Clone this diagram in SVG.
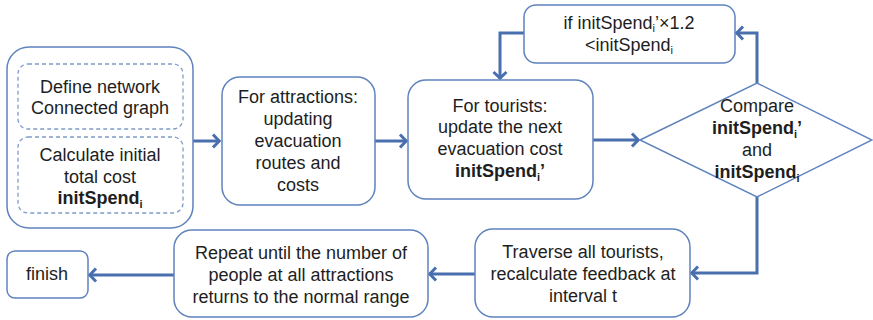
<svg xmlns="http://www.w3.org/2000/svg" width="873" height="320" viewBox="0 0 873 320">
<defs>
<style>
.box{fill:#fff;stroke:#5f83bd;stroke-width:1.5}
.dash{fill:#fff;stroke:#7f9cc8;stroke-width:1.3;stroke-dasharray:4 3}
.conn{fill:none;stroke:#4a6fae;stroke-width:3}
text{font-family:"Liberation Sans",Arial,sans-serif;font-size:18px;fill:#1e1e1e;text-anchor:middle}
.b{font-weight:bold}
.sub{font-size:11px}
</style>
<marker id="arr" markerUnits="userSpaceOnUse" viewBox="-10 -9 12 18" markerWidth="12" markerHeight="18" refX="0" refY="0" orient="auto">
<path d="M-7,-6.5 L-0.8,0 L-7,6.5" fill="none" stroke="#4a6fae" stroke-width="3"/>
</marker>
</defs>
<rect width="873" height="320" fill="#fff"/>
<g id="connectors">
<path class="conn" d="M193,141 L220,141" marker-end="url(#arr)"/>
<path class="conn" d="M375,141 L407,141" marker-end="url(#arr)"/>
<path class="conn" d="M593,140 L639,140" marker-end="url(#arr)"/>
<path class="conn" d="M757,83 L757,33 L736,33" marker-end="url(#arr)"/>
<path class="conn" d="M524,33 L500,33 L500,79" marker-end="url(#arr)"/>
<path class="conn" d="M757,197 L757,273 L691,273" marker-end="url(#arr)"/>
<path class="conn" d="M475,274 L429,274" marker-end="url(#arr)"/>
<path class="conn" d="M174,275 L89,275" marker-end="url(#arr)"/>
</g>
<g id="init">
<rect class="box" x="7" y="47" width="186" height="181" rx="22"/>
<g id="define">
<rect class="dash" x="18" y="64" width="165" height="65" rx="10"/>
<text x="100" y="93">Define network</text>
<text x="100" y="114">Connected graph</text>
</g>
<g id="calc">
<rect class="dash" x="18" y="137" width="165" height="76" rx="10"/>
<text x="100" y="161">Calculate initial</text>
<text x="100" y="183">total cost</text>
<text x="100" y="204" class="b">initSpend<tspan class="sub" dy="4">i</tspan></text>
</g>
</g>
<g id="attractions">
<rect class="box" x="222" y="77" width="153" height="128" rx="18"/>
<text x="298" y="103">For attractions:</text>
<text x="298" y="125">updating</text>
<text x="298" y="147">evacuation</text>
<text x="298" y="169">routes and</text>
<text x="298" y="191">costs</text>
</g>
<g id="tourists">
<rect class="box" x="408" y="80" width="185" height="119" rx="18"/>
<text x="500" y="112">For tourists:</text>
<text x="500" y="133">update the next</text>
<text x="500" y="155">evacuation cost</text>
<text x="500" y="177" class="b">initSpend<tspan class="sub" dy="4">i</tspan><tspan dy="-4">’</tspan></text>
</g>
<g id="condition">
<rect class="box" x="524" y="5" width="211" height="58" rx="12"/>
<text x="629" y="29">if initSpend<tspan class="sub" dy="3">i</tspan><tspan dy="-3">’×1.2</tspan></text>
<text x="629" y="51">&lt;initSpend<tspan class="sub" dy="3">i</tspan></text>
</g>
<g id="compare">
<polygon class="box" points="640,140 757,83 872,140 757,197"/>
<text x="757" y="112">Compare</text>
<text x="757" y="134" class="b">initSpend<tspan class="sub" dy="4">i</tspan><tspan dy="-4">’</tspan></text>
<text x="757" y="156">and</text>
<text x="757" y="178" class="b">initSpend<tspan class="sub" dy="4">i</tspan></text>
</g>
<g id="traverse">
<rect class="box" x="475" y="229" width="215" height="88" rx="18"/>
<text x="583" y="258">Traverse all tourists,</text>
<text x="583" y="280">recalculate feedback at</text>
<text x="583" y="302">interval t</text>
</g>
<g id="repeat">
<rect class="box" x="174" y="230" width="254" height="87" rx="18"/>
<text x="301" y="259">Repeat until the number of</text>
<text x="301" y="281">people at all attractions</text>
<text x="301" y="303">returns to the normal range</text>
</g>
<g id="finish">
<rect class="box" x="7" y="251" width="81" height="47" rx="8"/>
<text x="47" y="280">finish</text>
</g>
</svg>
